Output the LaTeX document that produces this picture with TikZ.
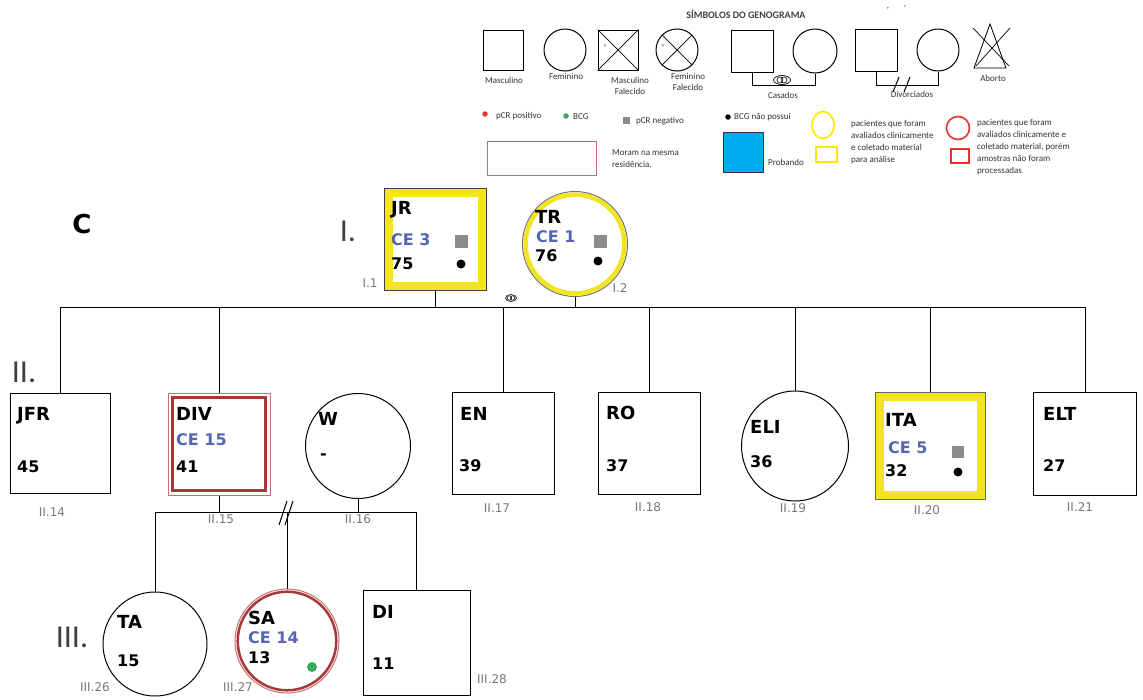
\documentclass[tikz,border=0pt]{standalone}
\usepackage{fontspec}
\setmainfont{DejaVu Sans}
\newfontfamily\lab{Carlito}
\usetikzlibrary{shapes.geometric}
\definecolor{yelB}{HTML}{F2E420}
\definecolor{yelL}{HTML}{FFE800}
\definecolor{ceblue}{HTML}{5565B5}
\definecolor{redB}{HTML}{A83838}
\definecolor{redL}{HTML}{C87070}
\definecolor{redK}{HTML}{E83030}
\definecolor{probblue}{HTML}{00AEEF}
\definecolor{pcrgray}{HTML}{8C8C8C}
\definecolor{idgray}{HTML}{787878}
\definecolor{bcggreen}{HTML}{3BAA5A}
\begin{document}
\begin{tikzpicture}[x=1pt,y=-1pt,
  lw/.style={line width=1pt},
  sqr/.style={draw, line width=1pt, rectangle, inner sep=0, minimum width=#1, minimum height=#1},
  rct/.style 2 args={draw, line width=1pt, rectangle, inner sep=0, minimum width=#1, minimum height=#2},
  circ/.style={draw, line width=1pt, circle, inner sep=0, minimum size=#1},
  nm/.style={font=\bfseries\fontsize{18}{18}\selectfont, anchor=west, inner sep=0},
  ce/.style={font=\bfseries\fontsize{16}{16}\selectfont, text=ceblue, anchor=west, inner sep=0},
  age/.style={font=\bfseries\fontsize{16}{16}\selectfont, anchor=west, inner sep=0},
  gid/.style={font=\fontsize{12}{12}\selectfont, text=idgray, inner sep=0},
  gen/.style={font=\lab\fontsize{32}{32}\selectfont, text=black!75, inner sep=0},
  leg/.style={font=\lab\fontsize{9}{10.5}\selectfont, inner sep=0, text=black!80},
  legs/.style={font=\lab\fontsize{9}{12}\selectfont, inner sep=0, text=black!80, align=left, anchor=north west},
  pcr/.style={fill=pcrgray, minimum size=#1, inner sep=0, rectangle},
  dotk/.style={fill=black, circle, minimum size=#1, inner sep=0},
]
\useasboundingbox (0,0) rectangle (1143,699);
\fill[white] (0,0) rectangle (1143,699);

% ================= LEGEND =================
\node[font=\lab\bfseries\fontsize{10}{10}\selectfont, text=black!75, inner sep=0] (ltitle) at (746,14) {SÍMBOLOS DO GENOGRAMA};
\node[leg] (tick1) at (888,9) {,};
\node[leg] (tick2) at (905,8) {'};

\node[sqr=40] (lm) at (503,50) {};
\node[leg] (lmt) at (504,80) {Masculino};
\node[circ=42] (lf) at (565,50) {};
\node[leg] (lft) at (566,76) {Feminino};
\node[sqr=40] (lmf) at (618,50) {};
\draw[line width=0.7pt] (lmf.north west) -- (lmf.south east) (lmf.north east) -- (lmf.south west);
\node[leg, font=\lab\fontsize{6}{6}\selectfont] (lmfp) at (605,46) {+};
\node[leg, align=center] (lmft) at (630,86) {Masculino\\Falecido};
\node[circ=42] (lff) at (677,50) {};
\draw[line width=0.7pt] (lff.north west) -- (lff.south east) (lff.north east) -- (lff.south west);
\node[leg, font=\lab\fontsize{6}{6}\selectfont] (lffp) at (663,46) {+};
\node[leg, align=center] (lfft) at (688,82) {Feminino\\Falecido};

\node[sqr=42] (lcm) at (752,51) {};
\node[circ=44] (lcf) at (815,51) {};
\coordinate (lcy) at (0,85);
\draw[lw] (lcm.south) -- (lcm.south |- lcy) -- (lcf.south |- lcy) -- (lcf.south);
\node[draw, ellipse, line width=0.7pt, minimum width=17, minimum height=9, inner sep=0] (lring) at (782,80) {};
\node[draw, circle, line width=0.6pt, minimum size=6, inner sep=0] (lr1) at (780,80) {};
\node[draw, circle, line width=0.6pt, minimum size=6, inner sep=0] (lr2) at (784,80) {};
\node[leg] (lct) at (783,95) {Casados};

\node[sqr=42] (ldm) at (876,50) {};
\node[circ=42] (ldf) at (938,50) {};
\coordinate (ldy) at (0,85);
\draw[lw] (ldm.south) -- (ldm.south |- ldy) -- (ldf.south |- ldy) -- (ldf.south);
\coordinate (ds1a) at (893,92); \coordinate (ds1b) at (899,77);
\coordinate (ds2a) at (904,92); \coordinate (ds2b) at (910,77);
\draw[lw] (ds1a) -- (ds1b) (ds2a) -- (ds2b);
\node[leg] (ldt) at (912,94) {Divorciados};

\coordinate (ab1) at (990,24); \coordinate (ab2) at (1006,68); \coordinate (ab3) at (974,68);
\draw[line width=0.8pt] (ab1) -- (ab2) -- (ab3) -- cycle;
\coordinate (ab4) at (973,28); \coordinate (ab5) at (1009,66);
\coordinate (ab6) at (1010,28); \coordinate (ab7) at (976,66);
\draw[line width=0.7pt] (ab4) -- (ab5) (ab6) -- (ab7);
\node[leg] (lat) at (993,78) {Aborto};

% second row
\node[fill=redK, circle, minimum size=5.5, inner sep=0] (lrd) at (485,114) {};
\node[leg, anchor=west] (lrdt) at (496,116) {pCR positivo};
\node[fill=bcggreen, circle, minimum size=5.5, inner sep=0] (lgd) at (566,116) {};
\node[leg, anchor=west] (lgdt) at (573,117) {BCG};
\node[pcr=7] (lgs) at (626,120) {};
\node[leg, anchor=west] (lgst) at (636,121) {pCR negativo};
\node[dotk=5.5] (lkd) at (728,117) {};
\node[leg, anchor=west] (lkdt) at (734,117) {BCG não possui};

\node[draw=redL, line width=0.8pt, rectangle, minimum width=109, minimum height=34, inner sep=0] (lres) at (541.5,158) {};
\node[legs, anchor=west] (lrest) at (612,159) {Moram na mesma\\residência.};

\node[draw=black!80, fill=probblue, line width=1pt, rectangle, minimum width=40, minimum height=40, inner sep=0] (lprob) at (743.5,152) {};
\node[leg, anchor=west] (lprobt) at (768,162) {Probando};

\node[draw=yelL, line width=1.6pt, ellipse, minimum width=22, minimum height=27, inner sep=0] (lyc) at (823,125) {};
\node[draw=yelL, line width=1.6pt, rectangle, minimum width=21, minimum height=15, inner sep=0] (lys) at (826.5,154.5) {};
\node[legs] (lyt) at (851,120) {pacientes que foram\\avaliados clinicamente\\e coletado material\\para análise};
\node[draw=redK, line width=1.6pt, circle, minimum size=23, inner sep=0] (lrc) at (958,128) {};
\node[draw=redK, line width=1.6pt, rectangle, minimum width=18, minimum height=14, inner sep=0] (lrs) at (960,156) {};
\node[legs] (lrt) at (977,119) {pacientes que foram\\avaliados clinicamente e\\coletado material, porém\\amostras não foram\\processadas};

% ================= GENERATION LABELS =================
\node[font=\bfseries\fontsize{26}{26}\selectfont, inner sep=0] (lc) at (82,224) {C};
\node[gen] (g1) at (348,231) {I.};
\node[gen] (g2) at (24,372) {II.};
\node[gen] (g3) at (72,637) {III.};

% ================= GENERATION I =================
\node[sqr=102, draw=black!75] (jr) at (435,239) {};
\draw[yelB, line width=8pt] ([shift={(5,5)}]jr.north west) rectangle ([shift={(-5,-5)}]jr.south east);
\node[nm] (jrn) at (391,210) {JR};
\node[ce] (jrc) at (391,240) {CE 3};
\node[age] (jra) at (391,264) {75};
\node[pcr=13] (jrp) at (461,241) {};
\node[dotk=9] (jrd) at (461,264) {};
\node[gid] (jri) at (370,283) {I.1};

\node[circ=105, draw=black!55] (tr) at (575,244) {};
\draw[yelB, line width=4.5pt] (tr.center) circle[radius=49.5];
\node[nm] (trn) at (535,217) {TR};
\node[ce] (trc) at (536,237) {CE 1};
\node[age] (tra) at (535,256) {76};
\node[pcr=13] (trp) at (600,241) {};
\node[dotk=9] (trd) at (598,261) {};
\node[gid] (tri) at (620,288) {I.2};

\node[draw, ellipse, line width=0.6pt, minimum width=11, minimum height=7, inner sep=0] (mring) at (511,298) {};
\node[draw, circle, line width=0.5pt, minimum size=4.5, inner sep=0] (mr1) at (509.5,298) {};
\node[draw, circle, line width=0.5pt, minimum size=4.5, inner sep=0] (mr2) at (512.5,298) {};

% ================= GENERATION II =================
\node[sqr=100] (jfr) at (60,443.5) {};
\node[nm] (jfrn) at (17,416) {JFR};
\node[age] (jfra) at (17,467) {45};
\node[gid] (jfri) at (52,512) {II.14};

\node[sqr=102, draw=redL] (div) at (219,444) {};
\draw[redB, line width=3.5pt] ([shift={(5,5)}]div.north west) rectangle ([shift={(-5,-5)}]div.south east);
\node[nm] (divn) at (176,414) {DIV};
\node[ce] (divc) at (176,440) {CE 15};
\node[age] (diva) at (176,467) {41};
\node[gid] (divi) at (221,519) {II.15};

\node[circ=105] (w) at (358,446) {};
\node[nm] (wn) at (318,419) {W};
\node[age] (wa) at (320,457) {-};
\node[gid] (wi) at (358,519) {II.16};

\node[sqr=102] (en) at (503,443.5) {};
\node[nm] (enn) at (460,414) {EN};
\node[age] (ena) at (459,466) {39};
\node[gid] (eni) at (497,508) {II.17};

\node[sqr=102] (ro) at (649,443.5) {};
\node[nm] (ron) at (606,413) {RO};
\node[age] (roa) at (606,466) {37};
\node[gid] (roi) at (648,507) {II.18};

\node[draw, ellipse, line width=1pt, minimum width=107, minimum height=110, inner sep=0] (eli) at (795,446) {};
\node[nm] (elin) at (750,427) {ELI};
\node[age] (elia) at (750,462) {36};
\node[gid] (elii) at (793,508) {II.19};

\node[rct={110}{107}, draw=black!60] (ita) at (930,445.5) {};
\draw[yelB, line width=8pt] ([shift={(5,5)}]ita.north west) rectangle ([shift={(-5,-5)}]ita.south east);
\node[nm] (itan) at (885,420) {ITA};
\node[ce] (itac) at (888,448) {CE 5};
\node[age] (itaa) at (885,471) {32};
\node[pcr=12] (itap) at (958,452) {};
\node[dotk=9] (itad) at (958,472) {};
\node[gid] (itai) at (927,510) {II.20};

\node[sqr=103] (elt) at (1085,443.5) {};
\node[nm] (eltn) at (1043,414) {ELT};
\node[age] (elta) at (1043,466) {27};
\node[gid] (elti) at (1080,507) {II.21};

% sibship line
\coordinate (sib) at (0,307);
\draw[lw] (jr.south) -- (jr.south |- sib);
\draw[lw] (tr.south) -- (tr.south |- sib);
\draw[lw] (jfr.north |- sib) -- (elt.north |- sib);
\foreach \c in {jfr,div,en,ro,eli,ita,elt} \draw[lw] (\c.north) -- (\c.north |- sib);

% ================= GENERATION III =================
\node[circ=104] (ta) at (155,644) {};
\node[nm] (tan) at (117,622) {TA};
\node[age] (taa) at (117,661) {15};
\node[gid] (tai) at (95,687) {III.26};

\node[circ=104, draw=redL] (sa) at (287,641) {};
\draw[redB, line width=2.5pt] (sa.center) circle[radius=49.3];
\node[nm] (san) at (248,618) {SA};
\node[ce] (sac) at (248,638) {CE 14};
\node[age] (saa) at (248,658) {13};
\node[fill=bcggreen, circle, minimum size=10, inner sep=0] (sag) at (312,667) {};
\node[gid] (sai) at (238,687) {III.27};

\node[rct={107}{105}] (di) at (416.5,642.5) {};
\node[nm] (din) at (372,612) {DI};
\node[age] (dia) at (372,664) {11};
\node[gid] (dii) at (492,679) {III.28};

\coordinate (dw) at (0,512);
\draw[lw] (div.south) -- (div.south |- dw);
\draw[lw] (w.south) -- (w.south |- dw);
\draw[lw] (ta.north |- dw) -- (di.north |- dw);
\foreach \c in {ta,sa,di} \draw[lw] (\c.north) -- (\c.north |- dw);
\coordinate (dv1a) at (279,525); \coordinate (dv1b) at (287,501);
\coordinate (dv2a) at (285,525); \coordinate (dv2b) at (293,501);
\draw[lw] (dv1a) -- (dv1b) (dv2a) -- (dv2b);
\end{tikzpicture}
\end{document}
